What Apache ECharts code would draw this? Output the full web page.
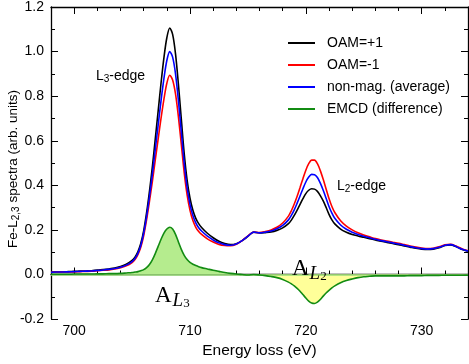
<!DOCTYPE html>
<html><head><meta charset="utf-8">
<script src="https://cdn.jsdelivr.net/npm/echarts@6/dist/echarts.min.js"></script>
<style>html,body{margin:0;padding:0;background:#fff}#c{width:469px;height:364px}</style>
</head><body><div id="c"></div>
<script>
const energy = [698,698.5,699,699.5,700,700.5,701,701.5,702,702.5,703,703.5,704,704.5,705,
705.25,705.5,705.75,706,706.25,706.5,706.75,707,707.25,707.5,707.75,708,708.25,708.5,708.75,709,709.25,709.5,709.75,710,710.25,710.5,710.75,711,
711.5,712,712.5,713,713.5,714,714.5,715,715.5,716,716.5,717,717.5,718,718.5,
718.75,719,719.25,719.5,719.75,720,720.25,720.5,720.75,721,721.25,721.5,721.75,722,722.25,722.5,
723,723.5,724,724.5,725,725.5,726,726.5,727,727.5,728,728.5,729,729.5,730,730.5,731,731.5,732,732.5,733,733.5,734];
const oamPlus = [0.011,0.012,0.012,0.013,0.014,0.015,0.016,0.017,0.020,0.022,0.025,0.029,0.036,0.046,0.063,
0.078,0.102,0.139,0.196,0.276,0.373,0.483,0.607,0.733,0.859,0.973,1.062,1.106,1.077,0.99,0.853,0.697,0.543,0.424,0.342,0.288,0.252,0.228,0.211,
0.185,0.165,0.149,0.139,0.134,0.138,0.152,0.171,0.19,0.186,0.188,0.191,0.198,0.209,0.228,
0.244,0.265,0.289,0.315,0.340,0.363,0.378,0.385,0.383,0.373,0.354,0.330,0.301,0.270,0.245,0.227,
0.204,0.190,0.180,0.173,0.167,0.161,0.155,0.149,0.144,0.139,0.134,0.128,0.123,0.118,0.114,0.112,0.114,0.120,0.130,0.133,0.124,0.112,0.104];
const oamMinus = [0.010,0.011,0.011,0.012,0.012,0.013,0.014,0.015,0.017,0.019,0.021,0.025,0.031,0.039,0.054,
0.067,0.089,0.122,0.174,0.245,0.328,0.417,0.513,0.607,0.701,0.787,0.858,0.894,0.873,0.81,0.707,0.584,0.457,0.357,0.288,0.242,0.212,0.193,0.180,
0.160,0.146,0.135,0.130,0.129,0.136,0.152,0.173,0.19,0.188,0.193,0.200,0.212,0.231,0.262,
0.286,0.316,0.351,0.390,0.430,0.468,0.497,0.513,0.513,0.497,0.466,0.427,0.384,0.341,0.305,0.278,
0.241,0.217,0.200,0.187,0.177,0.169,0.161,0.155,0.150,0.145,0.140,0.134,0.128,0.123,0.119,0.116,0.118,0.124,0.133,0.136,0.127,0.115,0.107];
const nonMag = [0.010,0.011,0.011,0.012,0.013,0.014,0.015,0.016,0.018,0.020,0.023,0.027,0.033,0.042,0.058,
0.072,0.095,0.13,0.185,0.26,0.35,0.45,0.56,0.67,0.78,0.88,0.96,1.0,0.975,0.90,0.78,0.64,0.50,0.39,0.315,0.265,0.232,0.21,0.195,
0.172,0.155,0.142,0.134,0.131,0.137,0.152,0.172,0.19,0.187,0.19,0.195,0.205,0.22,0.245,
0.265,0.29,0.32,0.352,0.385,0.415,0.437,0.449,0.448,0.435,0.41,0.378,0.342,0.305,0.275,0.252,
0.222,0.203,0.19,0.18,0.172,0.165,0.158,0.152,0.147,0.142,0.137,0.131,0.125,0.12,0.116,0.114,0.116,0.122,0.131,0.134,0.125,0.113,0.105];
const emcd = [0.001,0.001,0.001,0.001,0.002,0.002,0.002,0.002,0.003,0.003,0.004,0.004,0.005,0.007,0.009,
0.011,0.013,0.017,0.022,0.031,0.045,0.066,0.094,0.126,0.158,0.186,0.204,0.212,0.204,0.18,0.146,0.113,0.086,0.067,0.054,0.046,0.04,0.035,0.031,
0.025,0.019,0.014,0.009,0.005,0.002,0.000,-0.002,0.000,-0.002,-0.005,-0.009,-0.014,-0.022,-0.034,
-0.042,-0.051,-0.062,-0.075,-0.09,-0.105,-0.119,-0.128,-0.13,-0.124,-0.112,-0.097,-0.083,-0.071,-0.06,-0.051,
-0.037,-0.027,-0.02,-0.014,-0.01,-0.008,-0.006,-0.006,-0.006,-0.006,-0.006,-0.006,-0.005,-0.005,-0.005,-0.004,-0.004,-0.004,-0.003,-0.003,-0.003,-0.003,-0.003];
const xMajorTicks = [700,710,720,730];
const seriesNames = ['OAM=+1','OAM=-1','non-mag. (average)','EMCD (difference)'];

const pair = arr => energy.map((e,i)=>[e,arr[i]]);
const posPart = energy.map((e,i)=>[e,Math.max(emcd[i],0)]);
const negPart = energy.map((e,i)=>[e,Math.min(emcd[i],0)]);

const chart = echarts.init(document.getElementById('c'), null, {renderer:'canvas'});
const FONT = 'Liberation Sans';
const baseX = {type:'value', min:698, max:734, gridIndex:0};
const lineStyleAx = {show:true, lineStyle:{color:'#000', width:1.3}};
const opt = {
  animation:false,
  grid:{left:51, right:1, top:5, bottom:34, containLabel:false},
  xAxis:[
    Object.assign({}, baseX, {position:'bottom', interval:2, axisLine:lineStyleAx,
      axisTick:{inside:true, length:4, lineStyle:{color:'#000', width:1}},
      axisLabel:{customValues:xMajorTicks, color:'#000', fontFamily:FONT, fontSize:14, margin:5},
      splitLine:{show:false},
      name:'Energy loss (eV)', nameLocation:'middle', nameGap:21,
      nameTextStyle:{color:'#000', fontFamily:FONT, fontSize:15.5}}),
    Object.assign({}, baseX, {position:'bottom', axisLine:{show:false},
      axisTick:{inside:true, length:7, customValues:xMajorTicks, lineStyle:{color:'#000', width:1}},
      axisLabel:{show:false}, splitLine:{show:false}}),
    Object.assign({}, baseX, {position:'top', interval:2, axisLine:lineStyleAx,
      axisTick:{inside:true, length:4, lineStyle:{color:'#000', width:1}},
      axisLabel:{show:false}, splitLine:{show:false}}),
    Object.assign({}, baseX, {position:'top', axisLine:{show:false},
      axisTick:{inside:true, length:7, customValues:xMajorTicks, lineStyle:{color:'#000', width:1}},
      axisLabel:{show:false}, splitLine:{show:false}})
  ],
  yAxis:[
    {type:'value', min:-0.2, max:1.2, interval:0.2, position:'left', axisLine:lineStyleAx,
     axisTick:{inside:true, length:7, lineStyle:{color:'#000', width:1}},
     minorTick:{show:true, splitNumber:2, length:4, lineStyle:{color:'#000', width:1}},
     axisLabel:{color:'#000', fontFamily:FONT, fontSize:14, margin:7, formatter:v=>v.toFixed(1)},
     splitLine:{show:false}},
    {type:'value', min:-0.2, max:1.2, interval:0.2, position:'right', axisLine:lineStyleAx,
     axisTick:{inside:true, length:7, lineStyle:{color:'#000', width:1}},
     minorTick:{show:true, splitNumber:2, length:4, lineStyle:{color:'#000', width:1}},
     axisLabel:{show:false}, splitLine:{show:false}}
  ],
  legend:{
    orient:'vertical', left:283, top:31, itemWidth:27, itemHeight:2, itemGap:8, icon:'rect',
    data:seriesNames,
    textStyle:{color:'#000', fontFamily:FONT, fontSize:14, padding:[0,0,0,7]}
  },
  series:[
    {type:'line', name:'posfill', data:posPart, showSymbol:false, smooth:0.3, lineStyle:{width:0},
     areaStyle:{color:'#b5ec8e', opacity:1}, z:1, silent:true,
     markLine:{symbol:'none', silent:true, label:{show:false}, lineStyle:{color:'#98dc78', width:1.5, type:'solid'}, data:[{yAxis:0}]}},
    {type:'line', name:'negfill', data:negPart, showSymbol:false, smooth:0.3, lineStyle:{width:0},
     areaStyle:{color:'#ffff99', opacity:1}, z:1, silent:true},
    {type:'line', name:seriesNames[0], data:pair(oamPlus), showSymbol:false, smooth:0.3, color:'#000000', lineStyle:{width:1.6}, z:3},
    {type:'line', name:seriesNames[1], data:pair(oamMinus), showSymbol:false, smooth:0.3, color:'#ff0000', lineStyle:{width:1.6}, z:4},
    {type:'line', name:seriesNames[2], data:pair(nonMag), showSymbol:false, smooth:0.3, color:'#0000ff', lineStyle:{width:1.6}, z:5},
    {type:'line', name:seriesNames[3], data:pair(emcd), showSymbol:false, smooth:0.3, color:'#138c13', lineStyle:{width:1.6}, z:6}
  ],
  graphic:[
    {type:'text', z:100, left:96, top:69, style:{text:'L{s|3}-edge', font:'14px '+FONT, fill:'#000',
      rich:{s:{fontSize:10, fontFamily:FONT, padding:[7,0,0,0], verticalAlign:'bottom'}}}},
    {type:'text', z:100, left:337, top:179, style:{text:'L{s|2}-edge', font:'14px '+FONT, fill:'#000',
      rich:{s:{fontSize:10, fontFamily:FONT, padding:[7,0,0,0], verticalAlign:'bottom'}}}},
    {type:'text', z:100, left:155, top:284, style:{text:'A{l|L}{n|3}', font:'23px "Liberation Serif"', fill:'#000',
      rich:{l:{fontSize:19, fontStyle:'italic', fontFamily:'Liberation Serif', padding:[9,0,0,1], verticalAlign:'bottom'},
            n:{fontSize:13, fontFamily:'Liberation Serif', padding:[16,0,0,0], verticalAlign:'bottom'}}}},
    {type:'text', z:100, left:292, top:257, style:{text:'A{l|L}{n|2}', font:'23px "Liberation Serif"', fill:'#000',
      rich:{l:{fontSize:19, fontStyle:'italic', fontFamily:'Liberation Serif', padding:[9,0,0,1], verticalAlign:'bottom'},
            n:{fontSize:13, fontFamily:'Liberation Serif', padding:[16,0,0,0], verticalAlign:'bottom'}}}},
    {type:'text', z:100, x:13, y:169, rotation:Math.PI/2, style:{text:'Fe-L{s|2,3} spectra (arb. units)', font:'13.5px '+FONT, fill:'#000',
      align:'center', verticalAlign:'middle',
      rich:{s:{fontSize:10, fontFamily:FONT, padding:[7,0,0,0], verticalAlign:'bottom'}}}}
  ]
};
chart.setOption(opt);
</script></body></html>
